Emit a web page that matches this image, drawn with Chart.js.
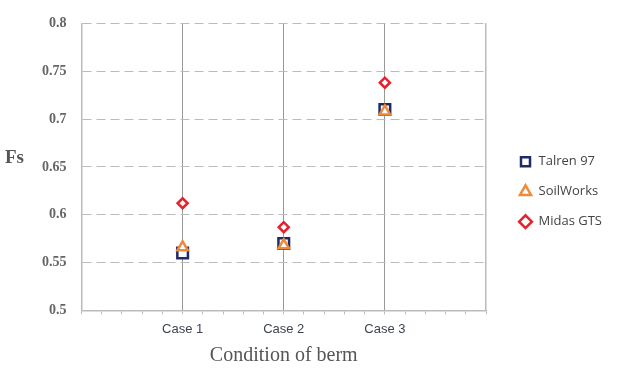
<!DOCTYPE html>
<html>
<head>
<meta charset="utf-8">
<script src="https://cdn.jsdelivr.net/npm/chart.js@4"></script>
<style>
  html, body { margin: 0; padding: 0; background: #fff; }
  #wrap { width: 622px; height: 374px; }
</style>
</head>
<body>
<div id="wrap"><canvas id="chart"></canvas></div>
<script>
const cases = ['Case 1', 'Case 2', 'Case 3'];
const caseX = [1, 2, 3];
const talren = [0.56, 0.57, 0.71];
const soilWorks = [0.566, 0.568, 0.708];
const midas = [0.612, 0.587, 0.738];
const yTicks = [0.5, 0.55, 0.6, 0.65, 0.7, 0.75, 0.8];

const toPoints = vals => vals.map((v, i) => ({ x: caseX[i], y: v }));

// horizontal "Fs" label on the left
const fsLabel = {
  id: 'fsLabel',
  afterInit(chart) {
    // give the legend a fixed, wider box so its text is not clipped
    const legend = chart.legend;
    if (legend) {
      const fit = legend.fit;
      legend.fit = function () {
        fit.call(this);
        this.width = 120;
      };
    }
  },
  afterDraw(chart) {
    const { ctx, chartArea } = chart;
    ctx.save();
    ctx.font = 'bold 19px "Liberation Serif", serif';
    ctx.fillStyle = '#555';
    ctx.textAlign = 'left';
    ctx.textBaseline = 'middle';
    ctx.fillText('Fs', 5, (chartArea.top + chartArea.bottom) / 2 - 9);
    ctx.restore();
  }
};

const config = {
  type: 'scatter',
  data: {
    datasets: [
      {
        label: 'Talren 97',
        data: toPoints(talren),
        pointStyle: 'rect',
        pointRadius: 7.5,
        pointHoverRadius: 7.5,
        borderColor: '#1f2a66',
        backgroundColor: '#fff',
        borderWidth: 2.5,
        order: 3
      },
      {
        label: 'SoilWorks',
        data: toPoints(soilWorks),
        pointStyle: 'triangle',
        pointRadius: 6,
        pointHoverRadius: 6,
        borderColor: '#ef8a3a',
        backgroundColor: '#fff',
        borderWidth: 2.5,
        order: 2
      },
      {
        label: 'Midas GTS',
        data: toPoints(midas),
        pointStyle: 'rectRot',
        pointRadius: 5,
        pointHoverRadius: 5,
        borderColor: '#e8202a',
        backgroundColor: '#fff',
        borderWidth: 2.5,
        order: 1
      }
    ]
  },
  options: {
    responsive: true,
    maintainAspectRatio: false,
    animation: false,
    layout: { padding: { left: 27, top: 5, right: 0, bottom: 6 } },
    plugins: {
      tooltip: { enabled: false },
      legend: {
        position: 'right',
        title: { display: true, text: '', font: { size: 2 }, padding: 4 },
        labels: {
          usePointStyle: true,
          boxHeight: 9,
          padding: 17,
          color: '#444',
          font: { family: '"Open Sans", sans-serif', size: 13 },
          sort: (a, b) => a.datasetIndex - b.datasetIndex
        }
      }
    },
    scales: {
      x: {
        type: 'linear',
        min: 0,
        max: 4,
        ticks: {
          stepSize: 0.2,
          autoSkip: false,
          maxRotation: 0,
          color: '#3d4450',
          padding: 7,
          font: { family: '"Liberation Sans", sans-serif', size: 13 },
          callback: v => {
            const i = caseX.findIndex(c => Math.abs(c - v) < 1e-6);
            return i >= 0 ? cases[i] : '';
          }
        },
        grid: {
          color: ctx => caseX.some(c => ctx.tick && Math.abs(c - ctx.tick.value) < 1e-6) ? '#999' : 'rgba(0,0,0,0)',
          tickColor: '#bbb',
          tickLength: 4,
          lineWidth: 1
        },
        border: { color: '#bbb', width: 1.5 },
        title: {
          display: true,
          text: 'Condition of berm',
          color: '#555',
          font: { family: '"Liberation Serif", serif', size: 20 },
          padding: { top: 0, bottom: 0 }
        }
      },
      y: {
        min: 0.5,
        max: 0.8,
        afterBuildTicks: axis => { axis.ticks = yTicks.map(v => ({ value: v })); },
        ticks: {
          color: '#666',
          padding: 15,
          font: { family: '"Liberation Serif", serif', size: 14, weight: 'bold' },
          callback: v => String(+v.toFixed(2))
        },
        grid: {
          color: '#bbb',
          drawTicks: false,
          lineWidth: 1
        },
        border: { color: '#bbb', width: 1.5, dash: [9, 5] }
      },
      y2: {
        position: 'right',
        min: 0.5,
        max: 0.8,
        afterFit: axis => { axis.width = 16; },
        ticks: { display: false },
        grid: { display: false, drawTicks: false },
        border: { color: '#bbb', width: 1.5 }
      }
    }
  },
  plugins: [fsLabel]
};

new Chart(document.getElementById('chart'), config);
</script>
</body>
</html>
